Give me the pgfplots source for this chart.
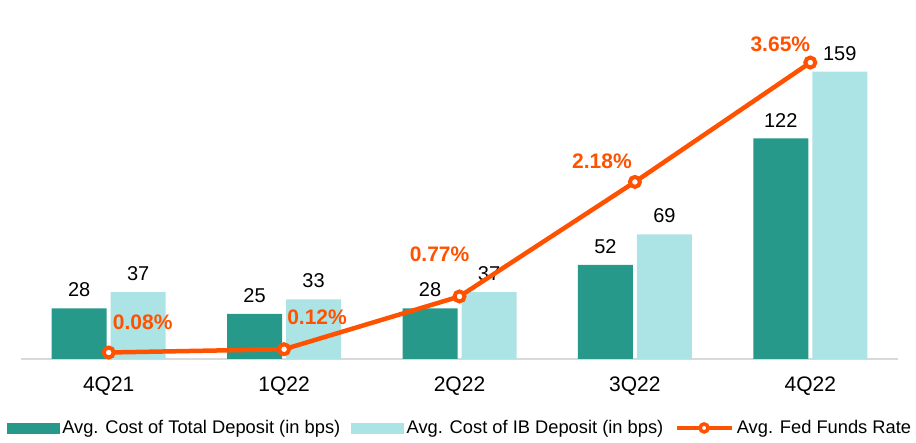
\documentclass[border=0pt]{standalone}
\usepackage{fontspec}
\setmainfont{Liberation Sans}
\usepackage{pgfplots}
\pgfplotsset{compat=1.18}
\definecolor{tealdark}{RGB}{38,153,138}
\definecolor{teallight}{RGB}{172,228,230}
\definecolor{fedorange}{RGB}{255,82,0}
\definecolor{axisgray}{RGB}{217,217,217}

\begin{document}
\begin{tikzpicture}
\useasboundingbox (-21pt,-84pt) rectangle (895pt,359pt);
% bars: cost of deposits (bps)
\begin{axis}[scale only axis,width=877pt,height=359pt,
xmin=-0.5,xmax=4.5,ymin=0,ymax=198.6,
axis x line=bottom,axis y line=none,
x axis line style={axisgray,line width=2pt,-},
xtick={0,...,4},xticklabels={4Q21,1Q22,2Q22,3Q22,4Q22},major tick length=0pt,
xticklabel style={font=\fontsize{21}{25}\selectfont,inner sep=0pt,anchor=north,yshift=-18pt},
ytick=\empty,
ybar,bar width=55pt,
/pgf/number format/assume math mode=true,
nodes near coords,
nodes near coords style={font=\fontsize{20}{24}\selectfont,text=black,inner sep=0pt,anchor=south,yshift=11pt},
clip=false]
\addplot[fill=tealdark,draw=none,bar shift=-29.5pt] coordinates {(0,28)(1,25)(2,28)(3,52)(4,122)};
\addplot[fill=teallight,draw=none,bar shift=29.5pt] coordinates {(0,37)(1,33)(2,37)(3,69)(4,159)};
\end{axis}
% line: fed funds rate (%)
\begin{axis}[scale only axis,width=877pt,height=359pt,
xmin=-0.5,xmax=4.5,ymin=0,ymax=4.42,hide axis,clip=false,
legend style={at={(0.5,-0.192)},anchor=center,xshift=1pt,draw=none,fill=none,legend columns=3,
font=\fontsize{18.3}{22}\selectfont,nodes={inner xsep=3pt,inner ysep=1pt},
/tikz/every even column/.append style={column sep=8pt}},
legend cell align=left]
\addlegendimage{legend image code/.code={\fill[tealdark] (0pt,-5pt) rectangle (52pt,5pt);}}
\addlegendentry{Avg. Cost of Total Deposit (in bps)}
\addlegendimage{legend image code/.code={\fill[teallight] (0pt,-5pt) rectangle (52pt,5pt);}}
\addlegendentry{Avg. Cost of IB Deposit (in bps)}
\addlegendimage{legend image code/.code={\draw[fedorange,line width=4.5pt] (0pt,0pt)--(55pt,0pt);
\draw[fedorange,line width=3.5pt,fill=white] (27.5pt,0pt) circle (4pt);}}
\addlegendentry{Avg. Fed Funds Rate}
\addplot[fedorange,line width=4.5pt,mark=*,mark size=5pt,
mark options={fill=white,draw=fedorange,line width=4pt},forget plot]
coordinates {(0,0.08)(1,0.12)(2,0.77)(3,2.18)(4,3.65)};
\begin{scope}[every node/.style={font=\fontsize{21}{25}\selectfont\bfseries,text=fedorange,inner sep=0pt}]
\node[anchor=west,xshift=4pt,yshift=30pt] at (axis cs:0,0.08) {0.08\%};
\node[anchor=west,xshift=3pt,yshift=32pt] at (axis cs:1,0.12) {0.12\%};
\node[anchor=east,xshift=10pt,yshift=42pt] at (axis cs:2,0.77) {0.77\%};
\node[anchor=east,xshift=-3pt,yshift=21pt] at (axis cs:3,2.18) {2.18\%};
\node[anchor=east,xshift=0pt,yshift=18pt] at (axis cs:4,3.65) {3.65\%};
\end{scope}
\end{axis}
\end{tikzpicture}
\end{document}
